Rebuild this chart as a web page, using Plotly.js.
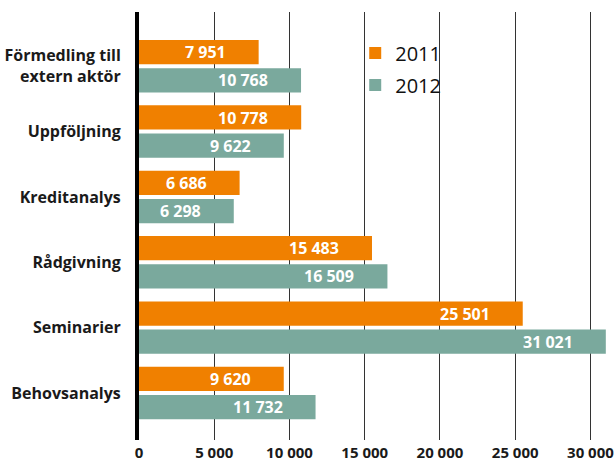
<!DOCTYPE html>
<html>
<head>
<meta charset="utf-8">
<script src="https://cdn.plot.ly/plotly-3.0.1.min.js"></script>
<style>html,body{margin:0;padding:0;background:#fff;}#chart{width:616px;height:465px;}</style>
</head>
<body>
<div id="chart"></div>
<script>
var categories = ["Förmedling till<br>extern aktör", "Uppföljning", "Kreditanalys", "Rådgivning", "Seminarier", "Behovsanalys"];
var values2011 = [7951, 10778, 6686, 15483, 25501, 9620];
var values2012 = [10768, 9622, 6298, 16509, 31021, 11732];
var seriesNames = ["2011", "2012"];
var tickValues = [0, 5000, 10000, 15000, 20000, 25000, 30000];
var tickLabels = ["0", "5 000", "10 000", "15 000", "20 000", "25 000", "30 000"];

var colors = ["#F08000", "#7AA99D"];

function fmt(v) {
  return String(v).replace(/\B(?=(\d{3})+(?!\d))/g, " ");
}

var traces = [
  {type: "bar", orientation: "h", name: seriesNames[0], x: values2011, y: categories,
   legendgroup: "a", marker: {color: colors[0]}, hoverinfo: "none"},
  {type: "bar", orientation: "h", name: seriesNames[1], x: values2012, y: categories,
   legendgroup: "b", marker: {color: colors[1]}, hoverinfo: "none"}
];

var annotations = [];
[values2011, values2012].forEach(function (vals, si) {
  vals.forEach(function (v, i) {
    annotations.push({
      x: v, y: categories[i], xref: "x", yref: "y",
      text: fmt(v), showarrow: false, xanchor: "right", yanchor: "middle",
      xshift: -31, yshift: si === 0 ? 14 : -14,
      font: {family: "Open Sans", size: 16, color: "#ffffff", weight: 700}
    });
  });
});

var layout = {
  width: 616, height: 465,
  margin: {l: 139, r: 9, t: 12, b: 25, pad: 0},
  paper_bgcolor: "#ffffff", plot_bgcolor: "#ffffff",
  barmode: "group", bargap: 0.137, bargroupgap: 0.14,
  showlegend: true,
  legend: {x: 0.462, y: 0.95, xanchor: "left", yanchor: "top", traceorder: "grouped",
           tracegroupgap: 3,
           font: {family: "Open Sans", size: 20, color: "#111"}, bgcolor: "rgba(0,0,0,0)"},
  xaxis: {range: [0, 31100], tickvals: tickValues, ticktext: tickLabels,
          showgrid: true, gridcolor: "#333", gridwidth: 1, zeroline: false, showline: false,
          ticks: "", ticklabelstandoff: 2,
          tickfont: {family: "Open Sans", size: 15, color: "#1a1a1a", weight: 700}},
  yaxis: {type: "category", range: [5.72, -0.83], showgrid: false, zeroline: false,
          showline: true, linecolor: "#000", linewidth: 4,
          ticks: "", ticklabelstandoff: 11,
          tickfont: {family: "Open Sans", size: 16, color: "#1a1a1a", weight: 700}},
  annotations: annotations,
  font: {family: "Open Sans"}
};

Plotly.newPlot("chart", traces, layout, {displayModeBar: false, staticPlot: true});
</script>
</body>
</html>
